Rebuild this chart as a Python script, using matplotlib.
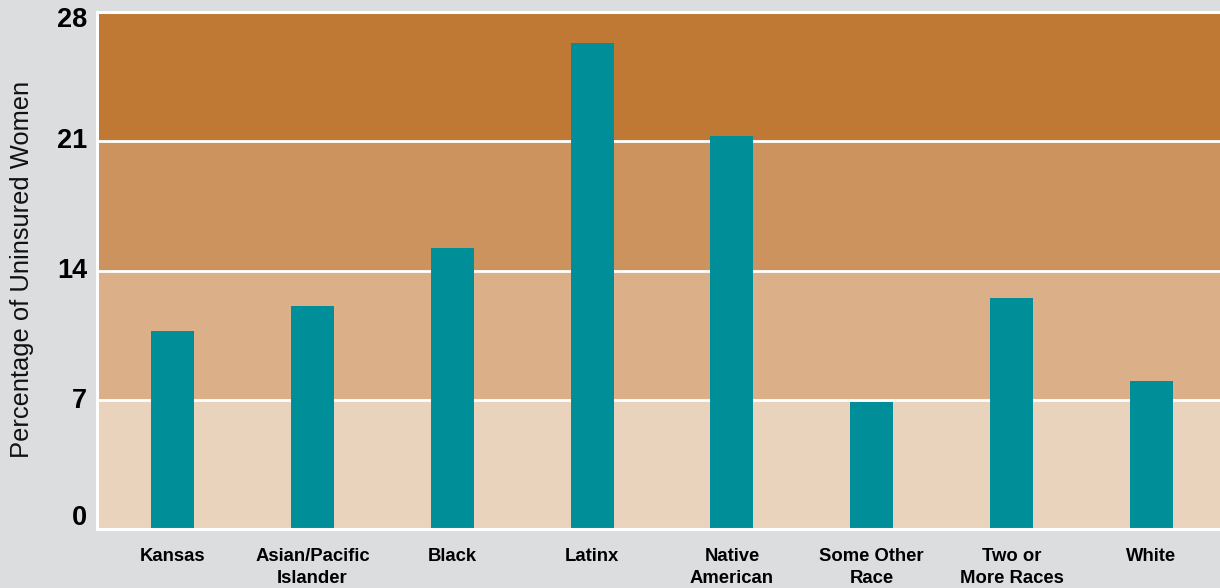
import numpy as np
import matplotlib.pyplot as plt
from matplotlib.transforms import ScaledTranslation

plt.rcParams['font.family'] = ['Liberation Sans', 'DejaVu Sans']

# data
groups = ["Kansas", "Asian/Pacific\nIslander", "Black", "Latinx", "Native\nAmerican",
          "Some Other\nRace", "Two or\nMore Races", "White"]
pct_uninsured = [10.7, 12.1, 15.2, 26.3, 21.3, 6.9, 12.5, 8.0]
yticks = [0, 7, 14, 21, 28]
band_colors = ["#EAD3BC", "#DBB089", "#CC935E", "#BF7934"]

bg = "#DCDDDF"
teal = "#008F99"

fig = plt.figure(figsize=(12.2, 5.88), dpi=100, facecolor=bg)
ax = fig.add_axes([97 / 1220, 59 / 588, 1 - 97 / 1220, 517 / 588])
ax.set_facecolor(bg)

# coloured bands
for i, c in enumerate(band_colors):
    ax.axhspan(yticks[i], yticks[i + 1], color=c, lw=0, zorder=0)
for y in yticks[1:-1]:
    ax.axhline(y, color="white", lw=2, zorder=1)

x = np.arange(len(groups))
ax.bar(x, pct_uninsured, width=0.307, color=teal, zorder=2)

ax.set_xlim(-0.54, len(groups) - 0.51)
ax.set_ylim(0, 28)

for s in ["top", "left", "bottom"]:
    ax.spines[s].set_color("white")
    ax.spines[s].set_linewidth(2.2)
ax.spines["right"].set_visible(False)

ax.set_yticks(yticks)
ax.set_yticklabels([str(t) for t in yticks], fontsize=19.5, fontweight="bold")
ax.set_xticks(x)
ax.set_xticklabels(groups, fontsize=13.3, fontweight="bold", linespacing=1.35, va="top")
ax.tick_params(axis="y", length=0, pad=7)
ax.tick_params(axis="x", length=0, pad=14)

# nudge y tick labels to match layout
offsets = {0: 14, 7: 2, 14: 3, 21: 3, 28: -5}
for t, lab in zip(yticks, ax.get_yticklabels()):
    lab.set_transform(lab.get_transform() + ScaledTranslation(0, offsets[t] / 100, fig.dpi_scale_trans))

fig.text(22 / 1220, 1 - 269 / 588, "Percentage of Uninsured Women", rotation=90,
         fontsize=18.4, ha="center", va="center", color="#111111")

fig.savefig("out.png", dpi=100, facecolor=bg)
